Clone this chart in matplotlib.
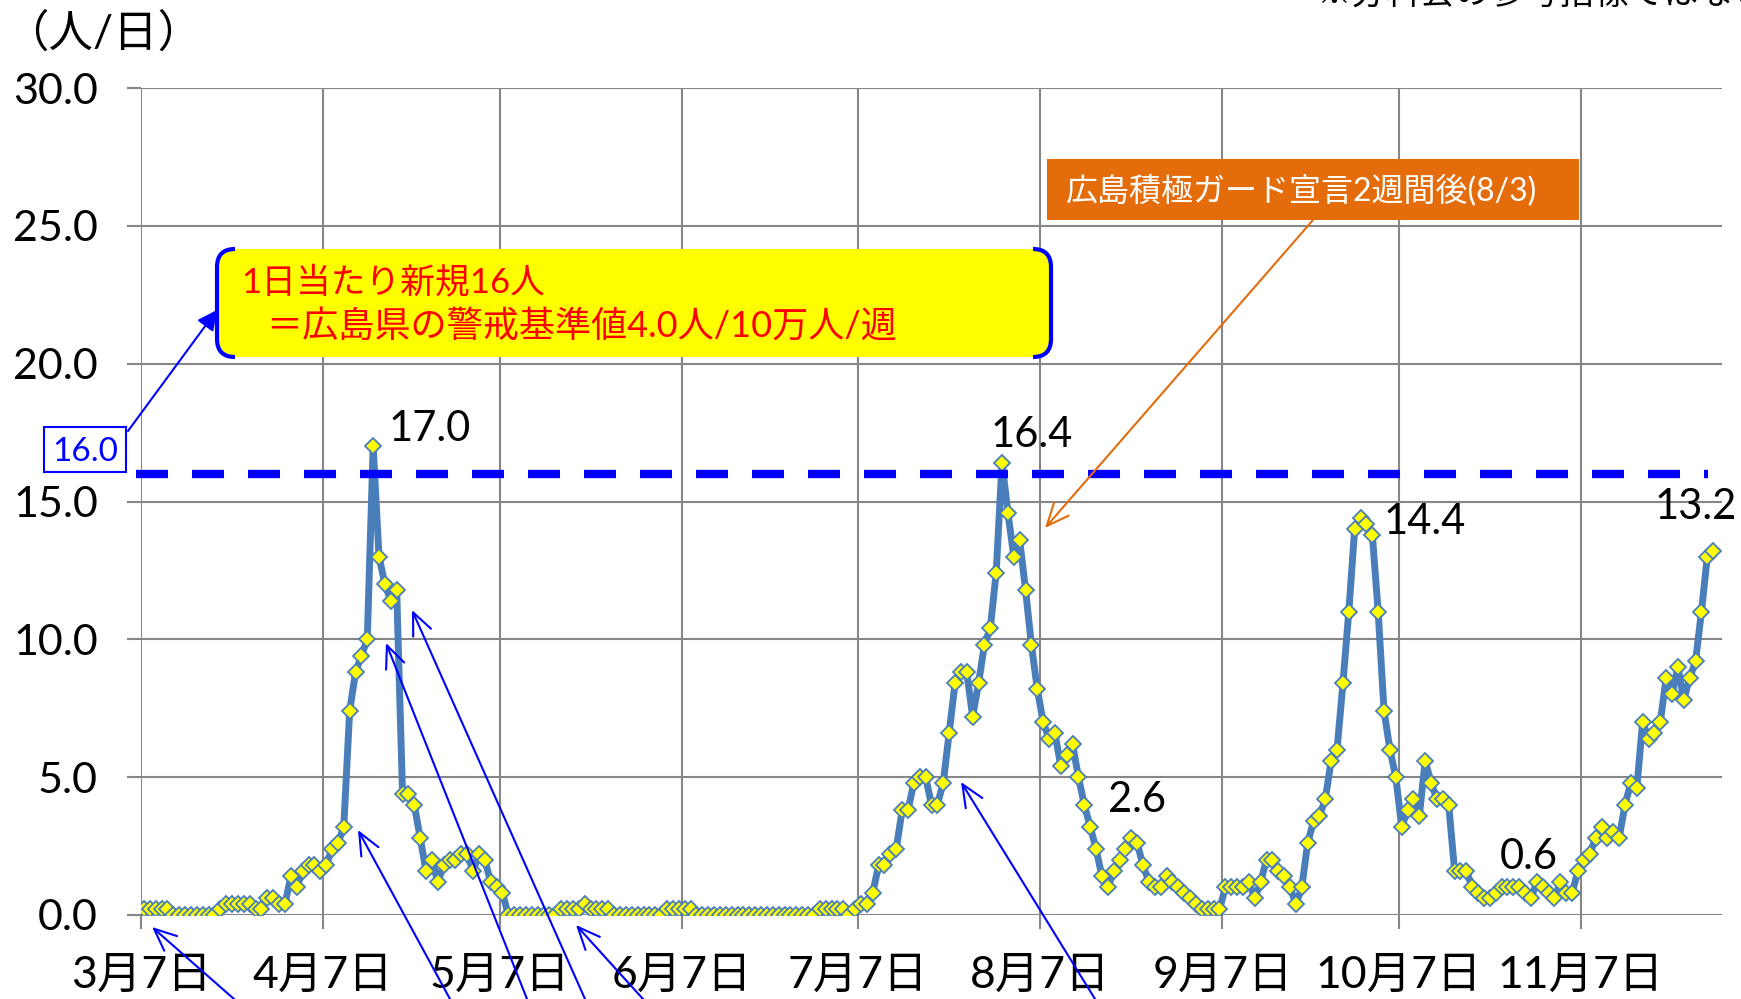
"""
Hiroshima: new cases per day (7-day average), 2020/3/7 - 11/29
"""

import numpy as np
import pandas as pd
import matplotlib
matplotlib.use('Agg')  # Non-interactive backend
import matplotlib.pyplot as plt
from matplotlib.patches import FancyBboxPatch, Rectangle, PathPatch
from matplotlib.path import Path
from matplotlib.transforms import Affine2D
from matplotlib.ticker import FormatStrFormatter

plt.rcParams['font.family'] = ['Lato', 'Noto Sans CJK JP']

# Daily values, split by month (first value is 3/7)
mar = [0.2, 0.2, 0.2, 0.2, 0.2, 0, 0, 0, 0, 0, 0, 0, 0, 0.2,
       0.4, 0.4, 0.4, 0.4, 0.4, 0.2, 0.2, 0.6, 0.6, 0.4, 0.4]
apr = [1.4, 1.0, 1.6, 1.8, 1.8, 1.6, 1.8, 2.4, 2.6, 3.2,
       7.4, 8.8, 9.4, 10.0, 17.0, 13.0, 12.0, 11.4, 11.8,
       4.4, 4.4, 4.0, 2.8, 1.6, 2.0, 1.2, 1.8, 2.0, 2.0, 2.2]
may = [2.2, 1.6, 2.2, 2.0, 1.2, 1.0, 0.8, 0, 0, 0, 0, 0, 0, 0, 0, 0,
       0.2, 0.2, 0.2, 0.2, 0.4, 0.2, 0.2, 0.2, 0.2, 0, 0, 0, 0, 0, 0]
jun = [0, 0, 0, 0.2, 0.2, 0.2, 0.2, 0.2, 0, 0, 0, 0, 0, 0, 0,
       0, 0, 0, 0, 0, 0, 0, 0, 0, 0, 0, 0, 0, 0, 0.2]
jul = [0.2, 0.2, 0.2, 0.2, 0, 0.2, 0.4, 0.4, 0.8, 1.8, 1.8, 2.2, 2.4,
       3.8, 3.8, 4.8, 5.0, 5.0, 4.0, 4.0, 4.8, 6.6, 8.4, 8.8, 8.8,
       7.2, 8.4, 9.8, 10.4, 12.4, 16.4]
aug = [14.6, 13.0, 13.6, 11.8, 9.8, 8.2, 7.0, 6.4, 6.6, 5.4, 5.8, 6.2,
       5.0, 4.0, 3.2, 2.4, 1.4, 1.0, 1.6, 2.0, 2.4, 2.8, 2.6, 1.8, 1.2,
       1.0, 1.0, 1.4, 1.2, 1.0, 0.8]
sep = [0.6, 0.4, 0.2, 0.2, 0.2, 0.2, 1.0, 1.0, 1.0, 1.0, 1.2, 0.6, 1.2,
       2.0, 2.0, 1.6, 1.4, 1.0, 0.4, 1.0, 2.6, 3.4, 3.6, 4.2, 5.6, 6.0,
       8.4, 11.0, 14.0, 14.4]
oct_ = [14.2, 13.8, 11.0, 7.4, 6.0, 5.0, 3.2, 3.8, 4.2, 3.6, 5.6, 4.8,
        4.2, 4.2, 4.0, 1.6, 1.6, 1.6, 1.0, 0.8, 0.6, 0.6, 0.8, 1.0, 1.0,
        1.0, 1.0, 0.8, 0.6, 1.2, 1.0]
nov = [0.8, 0.6, 1.2, 0.8, 0.8, 1.6, 2.0, 2.2, 2.8, 3.2, 2.8, 3.0, 2.8,
       4.0, 4.8, 4.6, 7.0, 6.4, 6.6, 7.0, 8.6, 8.0, 9.0, 7.8, 8.6, 9.2,
       11.0, 13.0, 13.2]

values = mar + apr + may + jun + jul + aug + sep + oct_ + nov
dates = pd.date_range('2020-03-07', periods=len(values), freq='D')

tick_dates = pd.to_datetime(['2020-03-07', '2020-04-07', '2020-05-07',
                             '2020-06-07', '2020-07-07', '2020-08-07',
                             '2020-09-07', '2020-10-07', '2020-11-07'])
tick_labels = ['3月7日', '4月7日', '5月7日', '6月7日', '7月7日',
               '8月7日', '9月7日', '10月7日', '11月7日']

alert_level = 16.0
label_dates = pd.to_datetime(['2020-04-15', '2020-07-31', '2020-08-23',
                              '2020-09-30', '2020-10-29', '2020-11-29'])
# label offsets in pixels (x, baseline above point)
label_offsets = [(57, 5), (30, 16), (0, 31), (64, -16), (-2, 29), (-18, 32)]

W, H = 1741, 999
GRID = '#868686'
LINE = '#4A7EBB'
BLUE = '#0000FF'
ORANGE = '#E46C0A'

fig = plt.figure(figsize=(W / 100, H / 100), dpi=100)
# pixel coords measured from the top-left corner
px = Affine2D().scale(1 / W, -1 / H).translate(0, 1) + fig.transFigure

ax = fig.add_axes([141 / W, 84 / H, 1581 / W, 827 / H])
half_day = pd.Timedelta(hours=12)

ax.plot(dates, values, color=LINE, lw=5, marker='D', ms=8,
        mfc='#FFFF00', mec=LINE, mew=1.3, zorder=3)

ax.set_ylim(0, 30)
ax.set_yticks(np.arange(0, 31, 5))
ax.yaxis.set_major_formatter(FormatStrFormatter('%.1f'))
ax.set_xlim(dates[0] - half_day, dates[-1] + pd.Timedelta(days=1) + half_day)
ax.set_xticks(tick_dates - half_day)
ax.set_xticklabels(tick_labels)

ax.grid(True, color=GRID, lw=1.5)
ax.set_axisbelow(True)
for s in ax.spines.values():
    s.set_visible(False)
ax.tick_params(axis='both', length=10, width=1.5, color=GRID, labelsize=31)
ax.tick_params(axis='x', labelsize=32, pad=19)
ax.tick_params(axis='y', pad=21)

# dashed alert level
ax.axhline(alert_level, xmin=-0.003, xmax=0.991, color=BLUE, lw=6,
           ls=(0, (3.84, 2.88)), clip_on=False, zorder=5)

# value labels
for d, (dx, dy) in zip(label_dates, label_offsets):
    v = values[dates.get_loc(d)]
    ax.annotate(f'{v:.1f}', xy=(d, v), xytext=(dx, dy),
                textcoords='offset pixels', ha='center', va='baseline',
                fontsize=30, zorder=6)

# y unit
fig.text(4, 34, '（人/日）', transform=px, fontsize=32, va='center')
fig.text(1316, 4, '※分科会の参考指標ではない', transform=px, fontsize=25,
         va='baseline', family=['Noto Sans CJK JP'])

# 16.0 box
fig.add_artist(Rectangle((44, 427), 82, 45, transform=px, facecolor='white',
                         edgecolor=BLUE, lw=1.5, zorder=6))
fig.text(85, 461, f'{alert_level:.1f}', transform=px, fontsize=24,
         color=BLUE, ha='center', va='baseline', zorder=7)

# yellow callout with bracket sides
x0, x1, y0, y1, r = 217, 1051, 249, 357, 18
fig.add_artist(FancyBboxPatch((x0, y0), x1 - x0, y1 - y0,
                              boxstyle=f'round,pad=0,rounding_size={r}',
                              transform=px, facecolor='#FFFF00',
                              edgecolor='none', zorder=6))
for xe, xi in [(x0, x0 + r), (x1, x1 - r)]:
    verts = [(xi, y0), (xe, y0), (xe, y0 + r), (xe, y1 - r), (xe, y1), (xi, y1)]
    codes = [Path.MOVETO, Path.CURVE3, Path.CURVE3, Path.LINETO,
             Path.CURVE3, Path.CURVE3]
    fig.add_artist(PathPatch(Path(verts, codes), transform=px, fill=False,
                             edgecolor=BLUE, lw=3, zorder=7))
fig.text(241, 282, '1日当たり新規16人', transform=px, fontsize=25,
         color='#FF0000', va='center', zorder=8)
fig.text(266, 327, '＝広島県の警戒基準値4.0人/10万人/週', transform=px,
         fontsize=26, color='#FF0000', va='center', zorder=8)

# orange note
fig.add_artist(Rectangle((1047, 159), 532, 61, transform=px,
                         facecolor=ORANGE, edgecolor='none', zorder=6))
fig.text(1066, 190, '広島積極ガード宣言2週間後(8/3)', transform=px,
         fontsize=23, color='white', va='center', zorder=7)

# pointer arrows
ax.annotate('', xy=(217, 310), xycoords=px, xytext=(128, 431), textcoords=px,
            arrowprops=dict(arrowstyle='-|>,head_length=0.6,head_width=0.3',
                            color=BLUE, lw=1.5, mutation_scale=20,
                            shrinkA=0, shrinkB=0),
            annotation_clip=False, zorder=7)
ax.annotate('', xy=(1045, 528), xycoords=px, xytext=(1313, 220), textcoords=px,
            arrowprops=dict(arrowstyle='->,head_length=0.8,head_width=0.35',
                            color=ORANGE, lw=1.5, mutation_scale=20,
                            shrinkA=0, shrinkB=0),
            annotation_clip=False, zorder=7)

bottom_arrows = [((152, 927), (234, 999)), ((358, 830), (450, 999)),
                 ((386, 643), (527, 999)), ((412, 610), (585, 999)),
                 ((576, 925), (643, 999)), ((961, 782), (1095, 999))]
for tip, through in bottom_arrows:
    tail = (tip[0] + (through[0] - tip[0]) * 1.3,
            tip[1] + (through[1] - tip[1]) * 1.3)
    ax.annotate('', xy=tip, xycoords=px, xytext=tail, textcoords=px,
                arrowprops=dict(arrowstyle='->,head_length=0.8,head_width=0.35',
                                color=BLUE, lw=1.5, mutation_scale=20,
                                shrinkA=0, shrinkB=0),
                annotation_clip=False, zorder=7)

fig.savefig('out.png', dpi=100)
